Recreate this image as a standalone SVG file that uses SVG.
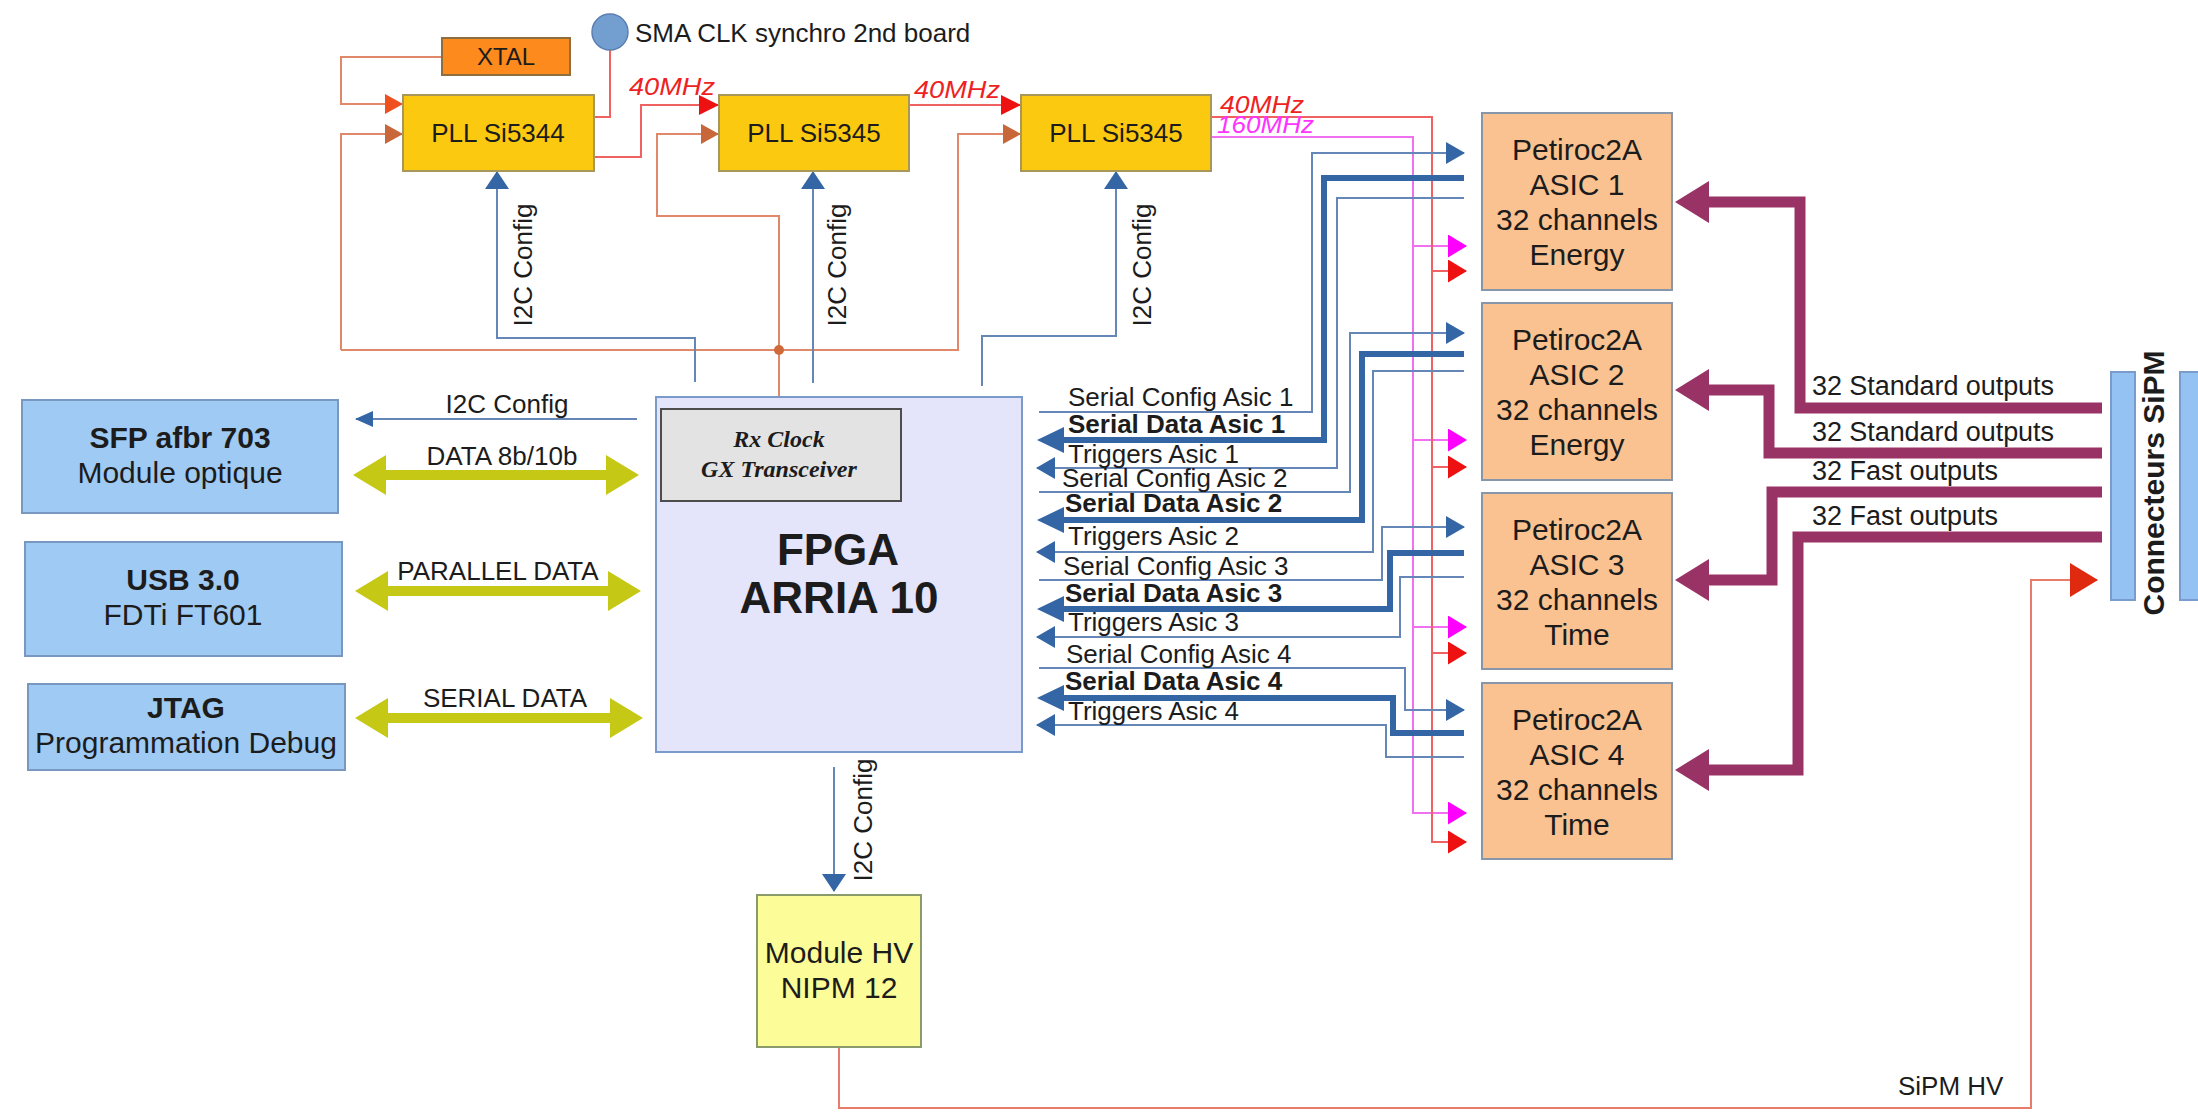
<svg xmlns="http://www.w3.org/2000/svg" width="2198" height="1113" viewBox="0 0 2198 1113">
<style>
text{font-family:"Liberation Sans",Arial,sans-serif;fill:#1c1c1c}
.b{font-weight:bold}
.s24{font-size:24px}
.s26{font-size:26px}
.s27{font-size:27px}
.s30{font-size:30px}
.mid{text-anchor:middle}
.pll{fill:#fbc90f;stroke:#a8975a;stroke-width:2}
.asic{fill:#f9c290;stroke:#8796a8;stroke-width:2}
.lb{fill:#9fcaf3;stroke:#7898c0;stroke-width:2}
.thin{fill:none;stroke:#6587b8;stroke-width:2}
.thick{fill:none;stroke:#3465a4;stroke-width:6}
.clk{fill:none;stroke:#e0896a;stroke-width:2}
.red{fill:none;stroke:#f06262;stroke-width:2}
.mag{fill:none;stroke:#f070f0;stroke-width:2}
.pur{fill:none;stroke:#993366;stroke-width:11}
.dbl{fill:#c5c814}
.freq{font-style:italic;font-size:24px}
.rx{font-family:"Liberation Serif","Times New Roman",serif;font-weight:bold;font-style:italic;font-size:24px}
</style>
<defs>
<marker id="mBlue" markerUnits="userSpaceOnUse" markerWidth="19" markerHeight="22" refX="18" refY="11" orient="auto"><path d="M0,0 L19,11 L0,22 z" fill="#3465a4"/></marker>
<marker id="mBlueS" markerUnits="userSpaceOnUse" markerWidth="18" markerHeight="16" refX="17" refY="8" orient="auto"><path d="M0,0 L18,8 L0,16 z" fill="#3465a4"/></marker>
<marker id="mBlueUp" markerUnits="userSpaceOnUse" markerWidth="18" markerHeight="24" refX="17" refY="12" orient="auto"><path d="M0,0 L18,12 L0,24 z" fill="#3465a4"/></marker>
<marker id="mThick" markerUnits="userSpaceOnUse" markerWidth="27" markerHeight="26" refX="2" refY="13" orient="auto"><path d="M0,0 L27,13 L0,26 z" fill="#3465a4"/></marker>
<marker id="mRed" markerUnits="userSpaceOnUse" markerWidth="19" markerHeight="23" refX="18" refY="11.5" orient="auto"><path d="M0,0 L19,11.5 L0,23 z" fill="#ee1111"/></marker>
<marker id="mMag" markerUnits="userSpaceOnUse" markerWidth="19" markerHeight="23" refX="18" refY="11.5" orient="auto"><path d="M0,0 L19,11.5 L0,23 z" fill="#ff00ff"/></marker>
<marker id="mRedL" markerUnits="userSpaceOnUse" markerWidth="20" markerHeight="20" refX="19" refY="10" orient="auto"><path d="M0,0 L20,10 L0,20 z" fill="#ee1111"/></marker>
<marker id="mXtal" markerUnits="userSpaceOnUse" markerWidth="18" markerHeight="20" refX="17" refY="10" orient="auto"><path d="M0,0 L18,10 L0,20 z" fill="#f0501e"/></marker>
<marker id="mBrown" markerUnits="userSpaceOnUse" markerWidth="18" markerHeight="20" refX="17" refY="10" orient="auto"><path d="M0,0 L18,10 L0,20 z" fill="#c8683a"/></marker>
<marker id="mHV" markerUnits="userSpaceOnUse" markerWidth="28" markerHeight="34" refX="27" refY="17" orient="auto"><path d="M0,0 L28,17 L0,34 z" fill="#e02a10"/></marker>
<marker id="mPur" markerUnits="userSpaceOnUse" markerWidth="34" markerHeight="42" refX="3" refY="21" orient="auto"><path d="M0,0 L34,21 L0,42 z" fill="#993366"/></marker>
</defs>

<g id="connectors">
<path class="clk" d="M442 57 H341 V104 H402" marker-end="url(#mXtal)"/>
<path class="clk" d="M341 350 V134 H402" marker-end="url(#mBrown)"/>
<path class="clk" d="M341 350 H958 V134 H1020" marker-end="url(#mBrown)"/>
<path class="clk" d="M779 350 V216 H657 V134 H718" marker-end="url(#mBrown)"/>
<path class="clk" d="M779 350 V409"/>
<circle cx="779" cy="350" r="5" fill="#d06a3a"/>
<path class="red" d="M610 50 V117 H594"/>
<path class="red" d="M594 157 H641 V105 H718" marker-end="url(#mRedL)"/>
<path class="red" d="M909 105 H1020" marker-end="url(#mRedL)"/>
<text class="freq" x="629" y="95" style="fill:#ee2222" textLength="86" lengthAdjust="spacingAndGlyphs">40MHz</text>
<text class="freq" x="914" y="98" style="fill:#ee2222" textLength="86" lengthAdjust="spacingAndGlyphs">40MHz</text>
<path class="mag" d="M1211 137 H1413 V813 H1466" marker-end="url(#mMag)"/>
<path class="mag" d="M1413 246 H1466" marker-end="url(#mMag)"/>
<path class="mag" d="M1413 440 H1466" marker-end="url(#mMag)"/>
<path class="mag" d="M1413 627 H1466" marker-end="url(#mMag)"/>
<path class="red" d="M1211 117 H1432 V842 H1466" marker-end="url(#mRed)"/>
<path class="red" d="M1432 271 H1466" marker-end="url(#mRed)"/>
<path class="red" d="M1432 467 H1466" marker-end="url(#mRed)"/>
<path class="red" d="M1432 653 H1466" marker-end="url(#mRed)"/>
<text class="freq" x="1220" y="113" style="fill:#ee2222" textLength="84" lengthAdjust="spacingAndGlyphs">40MHz</text>
<text class="freq" x="1217" y="133" style="fill:#ff33ff" textLength="97" lengthAdjust="spacingAndGlyphs">160MHz</text>
<path class="thin" d="M695 382 V338 H497 V172" marker-end="url(#mBlueUp)"/>
<path class="thin" d="M813 383 V172" marker-end="url(#mBlueUp)"/>
<path class="thin" d="M982 386 V336 H1116 V172" marker-end="url(#mBlueUp)"/>
<text class="s26 mid" transform="translate(532 265) rotate(-90)">I2C Config</text>
<text class="s26 mid" transform="translate(846 265) rotate(-90)">I2C Config</text>
<text class="s26 mid" transform="translate(1151 265) rotate(-90)">I2C Config</text>
<path class="thin" d="M834 767 V891" marker-end="url(#mBlueUp)"/>
<text class="s26 mid" transform="translate(872 820) rotate(-90)">I2C Config</text>
<path class="thin" d="M637 419 H356" marker-end="url(#mBlueS)"/>
<text class="s26 mid" x="507" y="413">I2C Config</text>
<polygon class="dbl" points="353,475 386,455 386,470 606,470 606,455 639,475 606,495 606,480 386,480 386,495"/>
<text class="s26 mid" x="502" y="465">DATA 8b/10b</text>
<polygon class="dbl" points="355,591 388,571 388,586 608,586 608,571 641,591 608,611 608,596 388,596 388,611"/>
<text class="s26 mid" x="498" y="580">PARALLEL DATA</text>
<polygon class="dbl" points="355,718 388,698 388,713 610,713 610,698 643,718 610,738 610,723 388,723 388,738"/>
<text class="s26 mid" x="505" y="707">SERIAL DATA</text>
<path class="thin" d="M1039 412 H1312 V153 H1464" marker-end="url(#mBlue)"/>
<path class="thick" d="M1464 178 H1324 V440 H1062" marker-end="url(#mThick)"/>
<path class="thin" d="M1464 198 H1337 V468 H1037" marker-end="url(#mBlue)"/>
<path class="thin" d="M1039 492 H1350 V333 H1464" marker-end="url(#mBlue)"/>
<path class="thick" d="M1464 354 H1362 V520 H1062" marker-end="url(#mThick)"/>
<path class="thin" d="M1464 371 H1373 V552 H1037" marker-end="url(#mBlue)"/>
<path class="thin" d="M1039 580 H1382 V527 H1464" marker-end="url(#mBlue)"/>
<path class="thick" d="M1464 553 H1390 V609 H1062" marker-end="url(#mThick)"/>
<path class="thin" d="M1464 577 H1400 V637 H1037" marker-end="url(#mBlue)"/>
<path class="thin" d="M1039 668 H1405 V710 H1464" marker-end="url(#mBlue)"/>
<path class="thick" d="M1464 733 H1393 V698 H1062" marker-end="url(#mThick)"/>
<path class="thin" d="M1464 757 H1386 V725 H1037" marker-end="url(#mBlue)"/>
<text class="s26" x="1068" y="406">Serial Config Asic 1</text>
<text class="s26 b" x="1068" y="433">Serial Data Asic 1</text>
<text class="s26" x="1068" y="463">Triggers Asic 1</text>
<text class="s26" x="1062" y="487">Serial Config Asic 2</text>
<text class="s26 b" x="1065" y="512">Serial Data Asic 2</text>
<text class="s26" x="1068" y="545">Triggers Asic 2</text>
<text class="s26" x="1063" y="575">Serial Config Asic 3</text>
<text class="s26 b" x="1065" y="602">Serial Data Asic 3</text>
<text class="s26" x="1068" y="631">Triggers Asic 3</text>
<text class="s26" x="1066" y="663">Serial Config Asic 4</text>
<text class="s26 b" x="1065" y="690">Serial Data Asic 4</text>
<text class="s26" x="1068" y="720">Triggers Asic 4</text>
<path class="pur" d="M2102 408 H1800 V202 H1706" marker-end="url(#mPur)"/>
<path class="pur" d="M2102 453 H1769 V390 H1706" marker-end="url(#mPur)"/>
<path class="pur" d="M2102 492 H1772 V580 H1706" marker-end="url(#mPur)"/>
<path class="pur" d="M2102 537 H1798 V770 H1706" marker-end="url(#mPur)"/>
<text class="s27" x="1812" y="395" textLength="242">32 Standard outputs</text>
<text class="s27" x="1812" y="441" textLength="242">32 Standard outputs</text>
<text class="s27" x="1812" y="480" textLength="186">32 Fast outputs</text>
<text class="s27" x="1812" y="525" textLength="186">32 Fast outputs</text>
<path fill="none" stroke="#e57d6a" stroke-width="2" d="M839 1047 V1108 H2031 V580 H2097" marker-end="url(#mHV)"/>
<text class="s26" x="1898" y="1095">SiPM HV</text>
</g>

<g id="xtal"><rect x="442" y="38" width="128" height="37" fill="#fd8a1c" stroke="#8d6e3f" stroke-width="2"/><text class="s24 mid" x="506" y="65">XTAL</text></g>
<g id="sma"><circle cx="610" cy="32" r="18" fill="#729fcf" stroke="#5b7fb0" stroke-width="1.5"/><text class="s26" x="635" y="42">SMA CLK synchro 2nd board</text></g>
<g id="pll1"><rect class="pll" x="403" y="95" width="191" height="76"/><text class="s26 mid" x="498" y="142">PLL Si5344</text></g>
<g id="pll2"><rect class="pll" x="719" y="95" width="190" height="76"/><text class="s26 mid" x="814" y="142">PLL Si5345</text></g>
<g id="pll3"><rect class="pll" x="1021" y="95" width="190" height="76"/><text class="s26 mid" x="1116" y="142">PLL Si5345</text></g>

<g id="fpga">
<rect x="656" y="397" width="366" height="355" fill="#e4e4fb" stroke="#7b9acc" stroke-width="2"/>
<rect x="661" y="409" width="240" height="92" fill="#e3e3e3" stroke="#4d4d4d" stroke-width="2"/>
<text class="rx mid" x="779" y="447">Rx Clock</text>
<text class="rx mid" x="779" y="477">GX Transceiver</text>
<text class="b mid" style="font-size:44px" x="838" y="565">FPGA</text>
<text class="b mid" style="font-size:44px" x="839" y="613">ARRIA 10</text>
</g>

<g id="sfp"><rect class="lb" x="22" y="400" width="316" height="113"/><text class="s30 b mid" x="180" y="448">SFP afbr 703</text><text class="s30 mid" x="180" y="483">Module optique</text></g>
<g id="usb"><rect class="lb" x="25" y="542" width="317" height="114"/><text class="s30 b mid" x="183" y="590">USB 3.0</text><text class="s30 mid" x="183" y="625">FDTi FT601</text></g>
<g id="jtag"><rect class="lb" x="28" y="684" width="317" height="86"/><text class="s30 b mid" x="186" y="718">JTAG</text><text class="s30 mid" x="186" y="753">Programmation Debug</text></g>

<g id="asic1"><rect class="asic" x="1482" y="113" width="190" height="177"/><text class="s30 mid" x="1577" y="160">Petiroc2A</text><text class="s30 mid" x="1577" y="195">ASIC 1</text><text class="s30 mid" x="1577" y="230">32 channels</text><text class="s30 mid" x="1577" y="265">Energy</text></g>
<g id="asic2"><rect class="asic" x="1482" y="303" width="190" height="177"/><text class="s30 mid" x="1577" y="350">Petiroc2A</text><text class="s30 mid" x="1577" y="385">ASIC 2</text><text class="s30 mid" x="1577" y="420">32 channels</text><text class="s30 mid" x="1577" y="455">Energy</text></g>
<g id="asic3"><rect class="asic" x="1482" y="493" width="190" height="176"/><text class="s30 mid" x="1577" y="540">Petiroc2A</text><text class="s30 mid" x="1577" y="575">ASIC 3</text><text class="s30 mid" x="1577" y="610">32 channels</text><text class="s30 mid" x="1577" y="645">Time</text></g>
<g id="asic4"><rect class="asic" x="1482" y="683" width="190" height="176"/><text class="s30 mid" x="1577" y="730">Petiroc2A</text><text class="s30 mid" x="1577" y="765">ASIC 4</text><text class="s30 mid" x="1577" y="800">32 channels</text><text class="s30 mid" x="1577" y="835">Time</text></g>

<g id="hv"><rect x="757" y="895" width="164" height="152" fill="#fcfc98" stroke="#8a9a6a" stroke-width="2"/><text class="s30 mid" x="839" y="963">Module HV</text><text class="s30 mid" x="839" y="998">NIPM 12</text></g>

<g id="connecteurs">
<rect x="2111" y="372" width="24" height="228" fill="#94c2f2" stroke="#7a9ccc" stroke-width="2"/>
<rect x="2180" y="372" width="24" height="228" fill="#94c2f2" stroke="#7a9ccc" stroke-width="2"/>
<text class="s30 b mid" transform="translate(2164 483) rotate(-90)">Connecteurs SiPM</text>
</g>
</svg>
